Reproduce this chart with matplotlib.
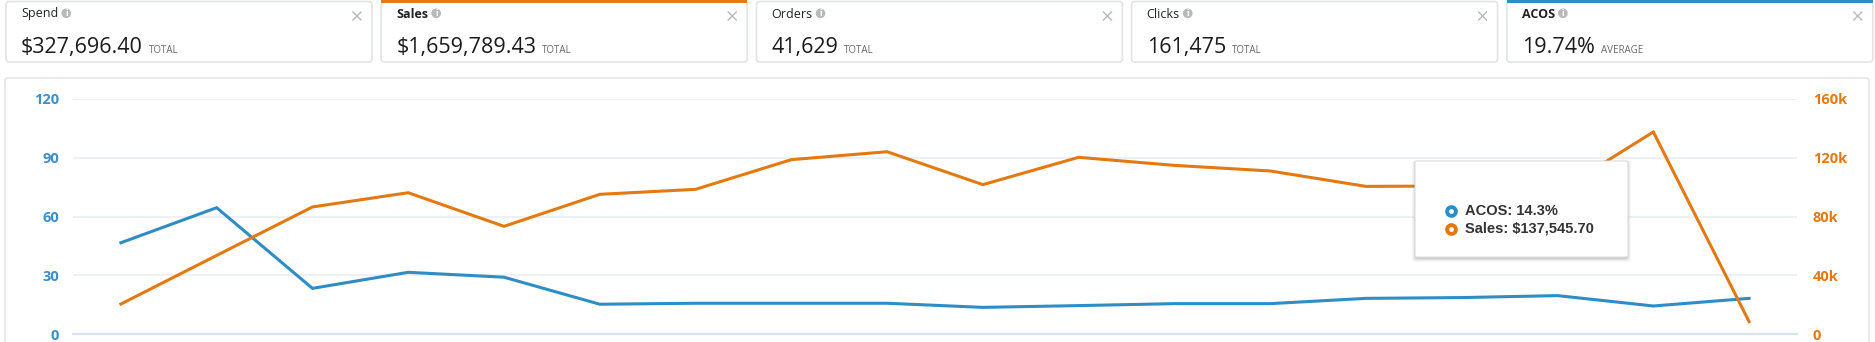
import matplotlib.pyplot as plt
from matplotlib.patches import FancyBboxPatch, Rectangle, Circle

# summary cards
titles = ["Spend", "Sales", "Orders", "Clicks", "ACOS"]
totals = ["$327,696.40", "$1,659,789.43", "41,629", "161,475", "19.74%"]
kinds = ["TOTAL", "TOTAL", "TOTAL", "TOTAL", "AVERAGE"]

# series (one point per period)
acos = [46.6, 64.5, 23.3, 31.5, 29.0, 15.2, 15.7, 15.7, 15.7, 13.6,
        14.5, 15.5, 15.5, 18.2, 18.6, 19.6, 14.3, 18.2]
sales = [20400, 53500, 86500, 96200, 73300, 95100, 98500, 118700, 124100,
         101700, 120300, 114800, 111000, 100500, 100800, 96900, 137545.70, 8400]
left_ticks = [0, 30, 60, 90, 120]
right_ticks = [0, 40000, 80000, 120000, 160000]
right_labels = ["0", "40k", "80k", "120k", "160k"]
hover = 16

BLUE = "#2e8dc5"
BLUE_TXT = "#3b8fcd"
ORANGE = "#e47911"
FONT = "Open Sans"

W, H = 1875, 342
fig = plt.figure(figsize=(W / 100, H / 100), dpi=100)
fig.patch.set_facecolor("white")

# background layer in pixel coordinates
bg = fig.add_axes([0, 0, 1, 1], zorder=-1)
bg.set_xlim(0, W)
bg.set_ylim(H, 0)
bg.axis("off")

# chart panel
bg.add_patch(FancyBboxPatch((5, 78), 1864, 290, boxstyle="round,pad=0,rounding_size=3",
                            fc="white", ec="#e4e6e8", lw=1.2))

# cards
card_w, step = 366, 375.2
fig.canvas.draw()
r = fig.canvas.get_renderer()
for i, t in enumerate(titles):
    x0 = 6 + i * step
    bg.add_patch(FancyBboxPatch((x0, 1.5), card_w, 60.5, boxstyle="round,pad=0,rounding_size=3",
                                fc="white", ec="#e2e4e6", lw=1.2))
    sel = {1: ORANGE, 4: BLUE}.get(i)
    if sel:
        bg.add_patch(Rectangle((x0, 0), card_w, 2.5, fc=sel, ec="none"))
    tt = bg.text(x0 + 15, 17.5, t, fontsize=9, family=FONT, color="#222222",
                 weight="bold" if sel else "normal", va="baseline", ha="left")
    tw = tt.get_window_extent(r).width
    cx = x0 + 15 + tw + 8
    bg.add_patch(Circle((cx, 13.3), 4.8, fc="#b9b9b9", ec="none"))
    bg.text(cx, 13.6, "i", fontsize=5.5, family="DejaVu Sans", weight="bold", color="white",
            ha="center", va="center")
    vt = bg.text(x0 + 15, 53, totals[i], fontsize=15.5, family=FONT, color="#1b1b1b",
                 va="baseline", ha="left")
    vw = vt.get_window_extent(r).width
    bg.text(x0 + 15 + vw + 6, 53, kinds[i], fontsize=7, family=FONT, color="#666666",
            va="baseline", ha="left")
    # close cross
    xc = x0 + card_w - 15
    bg.plot([xc - 4, xc + 4], [12, 20], color="#b8b8b8", lw=1)
    bg.plot([xc - 4, xc + 4], [20, 12], color="#b8b8b8", lw=1)

# main chart
ax = fig.add_axes([73 / W, 8 / H, (1797 - 73) / W, 235 / H], zorder=1)
ax.patch.set_visible(False)
x = list(range(len(acos)))
ax.set_xlim(-0.5, len(acos) - 0.5)
ax.set_ylim(0, 120)
ax.set_yticks(left_ticks)
ax.set_xticks([])
ax.grid(axis="y", color="#eef1f4", lw=1.5)
ax.set_axisbelow(True)
for s in ["top", "right", "left"]:
    ax.spines[s].set_visible(False)
ax.spines["bottom"].set_color("#d6e2ee")
ax.spines["bottom"].set_linewidth(1.5)
ax.tick_params(axis="y", length=0, pad=10, labelcolor=BLUE_TXT, labelsize=10.5)
for lb in ax.get_yticklabels():
    lb.set_family(FONT)
    lb.set_weight("bold")
ax.plot(x, acos, color=BLUE, lw=2.2, clip_on=False, solid_joinstyle="miter")

ax2 = ax.twinx()
ax2.patch.set_visible(False)
ax2.set_ylim(0, 160000)
ax2.set_yticks(right_ticks)
ax2.set_yticklabels(right_labels)
for s in ax2.spines.values():
    s.set_visible(False)
ax2.tick_params(axis="y", length=0, pad=11.5, labelcolor=ORANGE, labelsize=10.5)
for lb in ax2.get_yticklabels():
    lb.set_family(FONT)
    lb.set_weight("bold")
ax2.plot(x, sales, color=ORANGE, lw=2.2, clip_on=False, solid_joinstyle="miter")

# tooltip layer
fg = fig.add_axes([0, 0, 1, 1], zorder=5)
fg.set_xlim(0, W)
fg.set_ylim(H, 0)
fg.axis("off")
bx, by, bw, bh = 1415, 161, 213, 96
for k, a in [(4, 0.03), (3, 0.04), (2, 0.06), (1, 0.08)]:
    fg.add_patch(FancyBboxPatch((bx - k + 1, by - k + 3), bw + 2 * k - 2, bh + 2 * k - 2,
                                boxstyle="round,pad=0,rounding_size=3", fc="black", ec="none", alpha=a))
fg.add_patch(FancyBboxPatch((bx, by), bw, bh, boxstyle="round,pad=0,rounding_size=2",
                            fc="white", ec="#dddddd", lw=0.8))
rows = [(BLUE, f"ACOS: {acos[hover]}%"), (ORANGE, f"Sales: ${sales[hover]:,.2f}")]
for j, (c, txt) in enumerate(rows):
    yy = 211 + j * 17.5
    fg.scatter([1451], [yy], s=40, facecolor="white", edgecolor=c, linewidth=2.8, zorder=6)
    fg.text(1465, yy, txt, fontsize=10.5, family="Liberation Sans", weight="bold",
            color="#333333", va="center", ha="left")

fig.savefig("out.png", dpi=100, facecolor="white")
